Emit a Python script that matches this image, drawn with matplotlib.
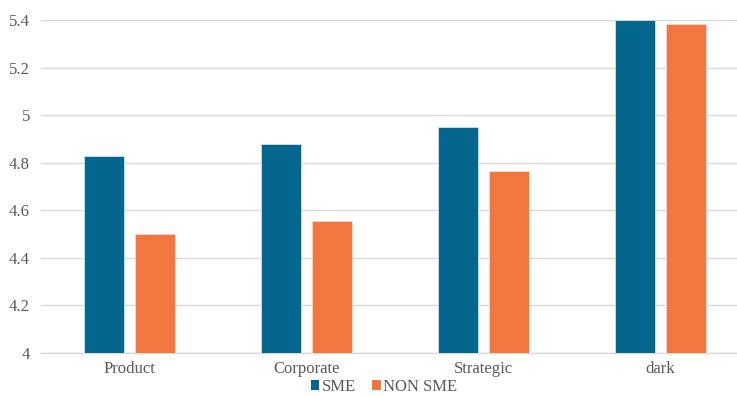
import matplotlib
matplotlib.use("Agg")
import matplotlib.pyplot as plt
import numpy as np
from matplotlib.patches import Patch

categories = ["Product", "Corporate", "Strategic", "dark"]
sme = [4.83, 4.88, 4.95, 5.40]
non_sme = [4.50, 4.555, 4.765, 5.385]
series_names = ["SME", "NON SME"]
colors = ["#05668D", "#F2763F"]
yticks = [4, 4.2, 4.4, 4.6, 4.8, 5, 5.2, 5.4]
ytick_labels = ["4", "4.2", "4.4", "4.6", "4.8", "5", "5.2", "5.4"]

plt.rcParams['font.family'] = ['Liberation Serif', 'DejaVu Serif']
fig = plt.figure(figsize=(7.37, 3.96), dpi=100)
ax = fig.add_axes([41/737, 1-353/396, 1-41/737, (353-20)/396])

x = np.arange(len(categories))
w = 0.226
off = 0.142
ax.bar(x - off, sme, w, color=colors[0], edgecolor="#cfe3ea", linewidth=0.6, zorder=3)
ax.bar(x + off, non_sme, w, color=colors[1], edgecolor="#fbd9c8", linewidth=0.6, zorder=3)

ax.set_ylim(4, 5.4)
ax.set_xlim(-0.5, -0.5 + 696/177)
ax.set_yticks(yticks)
ax.set_yticklabels(ytick_labels)
ax.set_xticks(x)
ax.set_xticklabels(categories)
ax.yaxis.grid(True, color="#d9d9d9", linewidth=1.0, zorder=0)
ax.set_axisbelow(True)
for s in ["top", "right", "left"]:
    ax.spines[s].set_visible(False)
ax.spines["bottom"].set_color("#d9d9d9")
ax.spines["bottom"].set_linewidth(1.0)
ax.tick_params(axis="both", length=0, labelsize=12, colors="#595959")
ax.tick_params(axis="y", pad=8)
ax.tick_params(axis="x", pad=6)

handles = [Patch(facecolor=c) for c in colors]
fig.legend(handles, series_names, loc="center", bbox_to_anchor=(384/737, 1-387/396),
           ncol=2, frameon=False, fontsize=12, handlelength=0.5, handleheight=0.5,
           handletextpad=0.15, columnspacing=1.0, labelcolor="#595959",
           borderpad=0.1)

fig.savefig("out.png", dpi=100)
